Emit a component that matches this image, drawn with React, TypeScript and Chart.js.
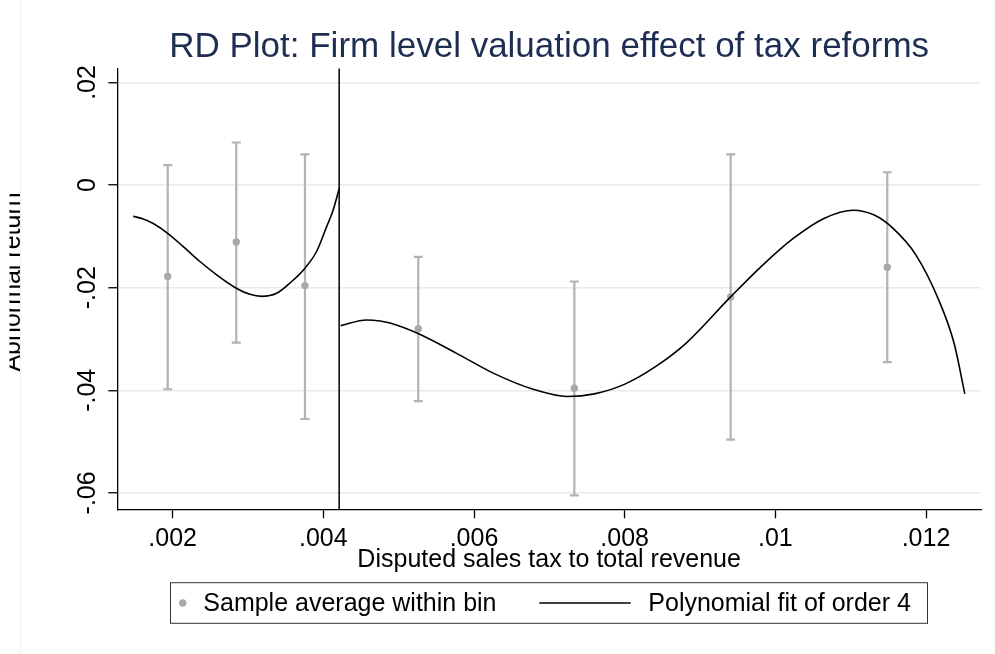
import React, { useEffect, useRef } from 'react';
import { Chart, registerables } from 'chart.js';

Chart.register(...registerables);

// ---- data ----
const binX = [0.001934, 0.002844, 0.003756, 0.00526, 0.007332, 0.009407, 0.011486];
const binMean = [-0.0178, -0.0111, -0.0196, -0.028, -0.0396, -0.0218, -0.016];
const binUpper = [0.0039, 0.0083, 0.006, -0.014, -0.0188, 0.006, 0.0025];
const binLower = [-0.0398, -0.0307, -0.0456, -0.0421, -0.0605, -0.0496, -0.0345];

const fitLeftX = [0.001477, 0.00161, 0.001742, 0.001934, 0.002141, 0.002362, 0.002584, 0.002844, 0.003026, 0.003181, 0.00338, 0.003557, 0.003756, 0.003912, 0.004044, 0.004132, 0.004212];
const fitLeftY = [-0.0061, -0.0066, -0.0075, -0.0094, -0.012, -0.0149, -0.0175, -0.0201, -0.0213, -0.0217, -0.0211, -0.0191, -0.0162, -0.0129, -0.0081, -0.0048, -0.0006];

const fitRightX = [0.00423, 0.004575, 0.004752, 0.004885, 0.00525, 0.005768, 0.006276, 0.006785, 0.00724, 0.007597, 0.008003, 0.008409, 0.008817, 0.009406, 0.009832, 0.010238, 0.010645, 0.011036, 0.011306, 0.01156, 0.011865, 0.012169, 0.012372, 0.012515];
const fitRightY = [-0.0274, -0.0263, -0.0265, -0.0269, -0.0289, -0.0328, -0.0368, -0.0398, -0.0412, -0.0407, -0.0388, -0.0354, -0.0308, -0.0218, -0.0156, -0.0104, -0.0065, -0.0049, -0.0058, -0.0084, -0.0136, -0.0224, -0.0308, -0.0407];

const cutoff = 0.00421;

const xTickValues = [0.002, 0.004, 0.006, 0.008, 0.01, 0.012];
const xTickLabels = ['.002', '.004', '.006', '.008', '.01', '.012'];
const yTickValues = [0.02, 0, -0.02, -0.04, -0.06];
const yTickLabels = ['.02', '0', '-.02', '-.04', '-.06'];

const titleText = 'RD Plot: Firm level valuation effect of tax reforms';
const xTitle = 'Disputed sales tax to total revenue';
const yTitle = 'Abnormal return';
const binLabel = 'Sample average within bin';
const fitLabel = 'Polynomial fit of order 4';

const FONT = "'Liberation Sans', Arial, Helvetica, sans-serif";
const GRAY = '#a9a9a9';
const BAR_GRAY = '#b3b3b3';

const customPlugin = {
  id: 'rdCustom',
  beforeDatasetsDraw(chart: any) {
    const { ctx, chartArea, scales } = chart;
    const x = scales.x;
    const y = scales.y;
    ctx.save();
    // confidence bars
    ctx.strokeStyle = BAR_GRAY;
    ctx.lineWidth = 2.2;
    binX.forEach((bx, i) => {
      const px = x.getPixelForValue(bx);
      const pt = y.getPixelForValue(binUpper[i]);
      const pb = y.getPixelForValue(binLower[i]);
      ctx.beginPath();
      ctx.moveTo(px, pt);
      ctx.lineTo(px, pb);
      ctx.moveTo(px - 4.5, pt);
      ctx.lineTo(px + 4.5, pt);
      ctx.moveTo(px - 4.5, pb);
      ctx.lineTo(px + 4.5, pb);
      ctx.stroke();
    });
    // cutoff line
    const cx = x.getPixelForValue(cutoff);
    ctx.strokeStyle = '#000';
    ctx.lineWidth = 1.5;
    ctx.beginPath();
    ctx.moveTo(cx, chartArea.top);
    ctx.lineTo(cx, chartArea.bottom);
    ctx.stroke();
    ctx.restore();
  },
  afterDraw(chart: any) {
    const { ctx, chartArea, scales } = chart;
    const y = scales.y;
    ctx.save();
    // faint outer region line
    ctx.strokeStyle = '#f1f1f1';
    ctx.lineWidth = 1;
    ctx.beginPath();
    ctx.moveTo(20.5, 0);
    ctx.lineTo(20.5, chart.height);
    ctx.stroke();

    // rotated y tick labels
    ctx.fillStyle = '#000';
    ctx.font = `25px ${FONT}`;
    ctx.textAlign = 'center';
    ctx.textBaseline = 'alphabetic';
    yTickValues.forEach((v, i) => {
      const py = y.getPixelForValue(v);
      ctx.save();
      ctx.translate(chartArea.left - 22, py);
      ctx.rotate(-Math.PI / 2);
      ctx.fillText(yTickLabels[i], 0, 0);
      ctx.restore();
    });

    // y axis title (clipped on the left like the reference)
    ctx.save();
    ctx.beginPath();
    ctx.rect(9.5, 0, chart.width, chart.height);
    ctx.clip();
    ctx.translate(19.8, (chartArea.top + chartArea.bottom) / 2 - 7);
    ctx.rotate(-Math.PI / 2);
    ctx.fillText(yTitle, 0, 0);
    ctx.restore();

    // legend
    const lx = 170.5, ly = 582.7, lw = 757, lh = 40.6;
    ctx.strokeStyle = '#333';
    ctx.lineWidth = 1;
    ctx.strokeRect(lx, ly, lw, lh);
    const cy = ly + lh / 2;
    ctx.fillStyle = GRAY;
    ctx.beginPath();
    ctx.arc(182.7, cy, 3.7, 0, Math.PI * 2);
    ctx.fill();
    ctx.fillStyle = '#000';
    ctx.textAlign = 'left';
    ctx.textBaseline = 'middle';
    ctx.font = `25px ${FONT}`;
    const ds = chart.data.datasets;
    ctx.fillText(ds[0].label, 203.3, cy + 1);
    ctx.strokeStyle = '#000';
    ctx.lineWidth = 1.5;
    ctx.beginPath();
    ctx.moveTo(539.3, cy);
    ctx.lineTo(630.7, cy);
    ctx.stroke();
    ctx.fillText(ds[1].label, 648.3, cy + 1);
    ctx.restore();
  },
};

export default function App() {
  const ref = useRef<HTMLCanvasElement | null>(null);

  useEffect(() => {
    if (!ref.current) return;
    const chart = new Chart(ref.current, {
      type: 'scatter',
      data: {
        datasets: [
          {
            label: binLabel,
            data: binX.map((v, i) => ({ x: v, y: binMean[i] })),
            pointRadius: 3.7,
            pointHoverRadius: 3.7,
            backgroundColor: GRAY,
            borderWidth: 0,
            order: 2,
          } as any,
          {
            label: fitLabel,
            data: fitLeftX.map((v, i) => ({ x: v, y: fitLeftY[i] })),
            showLine: true,
            borderColor: '#000',
            borderWidth: 1.6,
            pointRadius: 0,
            cubicInterpolationMode: 'monotone',
            order: 1,
          } as any,
          {
            label: fitLabel,
            data: fitRightX.map((v, i) => ({ x: v, y: fitRightY[i] })),
            showLine: true,
            borderColor: '#000',
            borderWidth: 1.6,
            pointRadius: 0,
            cubicInterpolationMode: 'monotone',
            order: 1,
          } as any,
        ],
      },
      options: {
        animation: false,
        responsive: false,
        devicePixelRatio: 1,
        layout: { padding: { top: 0, left: 0, right: 14, bottom: 74.7 } },
        plugins: {
          legend: { display: false },
          tooltip: { enabled: false },
          title: {
            display: true,
            text: titleText,
            fullSize: false,
            color: '#1e2d52',
            font: { family: FONT, size: 35, weight: 'normal' },
            padding: { top: 25.9, bottom: 0.7 },
          },
        },
        scales: {
          x: {
            type: 'linear',
            min: 0.001265,
            max: 0.01273,
            afterBuildTicks: (s: any) => {
              s.ticks = xTickValues.map((v) => ({ value: v }));
            },
            afterFit: (s: any) => {
              s.height = 70;
            },
            ticks: {
              callback: (v: any) => {
                const i = xTickValues.findIndex((t) => Math.abs(t - v) < 1e-9);
                return i >= 0 ? xTickLabels[i] : '';
              },
              color: '#000',
              font: { family: FONT, size: 25 },
              padding: 6,
              maxRotation: 0,
              autoSkip: false,
            },
            grid: {
              drawOnChartArea: false,
              drawTicks: true,
              tickLength: 9,
              tickColor: '#000',
              tickWidth: 1.3,
            },
            border: { display: true, color: '#000', width: 1.3 },
            title: {
              display: true,
              text: xTitle,
              color: '#000',
              font: { family: FONT, size: 25 },
              padding: { top: 0, bottom: 4 },
            },
          },
          y: {
            type: 'linear',
            min: -0.0632,
            max: 0.0227,
            afterBuildTicks: (s: any) => {
              s.ticks = yTickValues.map((v) => ({ value: v }));
            },
            afterFit: (s: any) => {
              s.width = 117.3;
            },
            ticks: { display: false },
            grid: {
              color: '#e4ecee',
              lineWidth: 1.5,
              drawTicks: true,
              tickLength: 9,
              tickColor: '#000',
              tickWidth: 1.3,
            },
            border: { display: true, color: '#000', width: 1.3 },
          },
        },
      } as any,
      plugins: [customPlugin],
    });
    return () => chart.destroy();
  }, []);

  return (
    <div style={{ position: 'fixed', left: 0, top: 0, width: 995, height: 654, background: '#fff' }}>
      <canvas ref={ref} width={995} height={654} style={{ width: 995, height: 654, display: 'block' }} />
    </div>
  );
}
